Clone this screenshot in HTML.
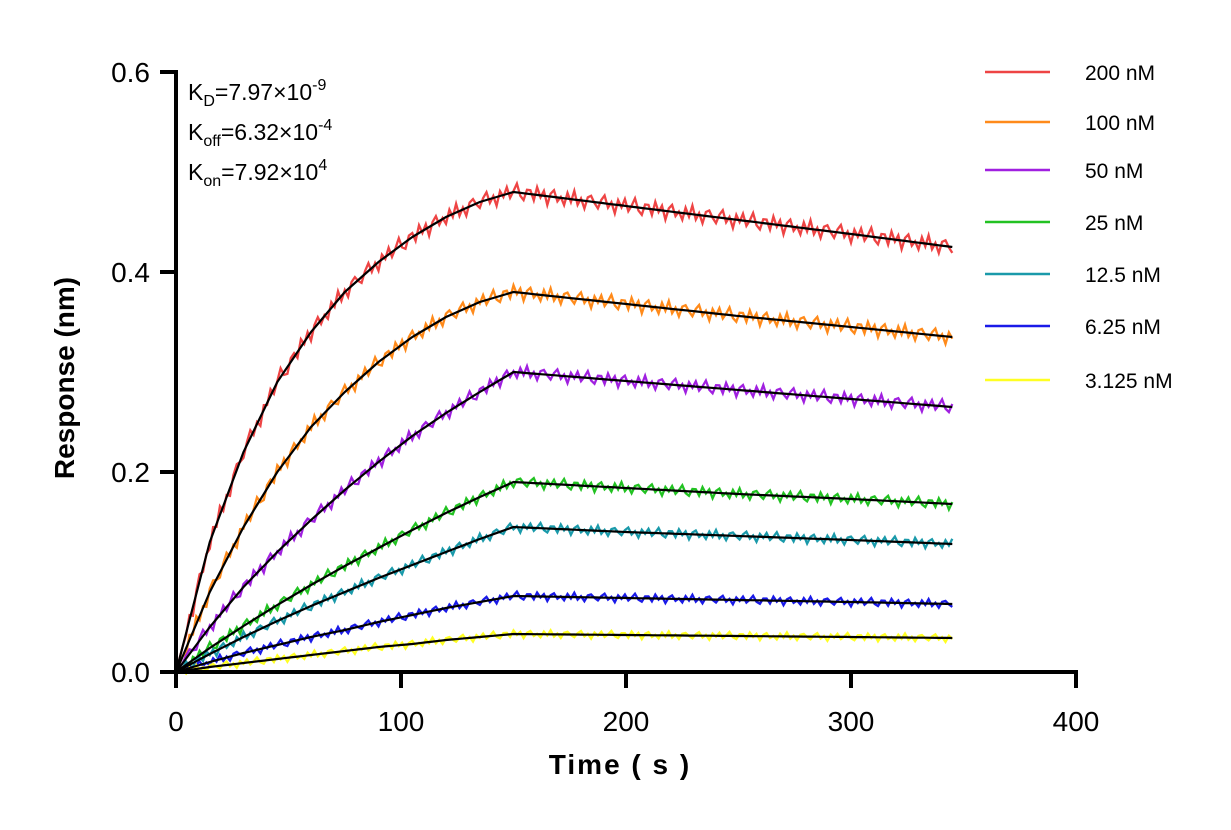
<!DOCTYPE html>
<html><head><meta charset="utf-8"><style>
body{margin:0;background:#fff;}
svg text{font-family:"Liberation Sans",Arial,sans-serif;}
</style></head><body>
<svg width="1231" height="825" viewBox="0 0 1231 825">
<g id="plot"></g>
<g id="axes"></g>
<g id="legend"></g>
<text x="188" y="100" font-size="23">K<tspan font-size="16" dy="6">D</tspan><tspan dy="-6">=7.97×10</tspan><tspan font-size="16" dy="-10">-9</tspan></text>
<text x="188" y="140" font-size="23">K<tspan font-size="16" dy="6">off</tspan><tspan dy="-6">=6.32×10</tspan><tspan font-size="16" dy="-10">-4</tspan></text>
<text x="188" y="180" font-size="23">K<tspan font-size="16" dy="6">on</tspan><tspan dy="-6">=7.92×10</tspan><tspan font-size="16" dy="-10">4</tspan></text>
<text x="620" y="774" font-size="28" font-weight="bold" text-anchor="middle" letter-spacing="2">Time ( s )</text>
<text x="74" y="378" font-size="28" font-weight="bold" text-anchor="middle" transform="rotate(-90 74 378)">Response (nm)</text>
</svg>
<script>
const times=[0,15,30,45,60,75,90,105,120,135,150,200,250,300,345];
const labels=["200 nM","100 nM","50 nM","25 nM","12.5 nM","6.25 nM","3.125 nM"];
const colors=["#ee4444","#ff8a1a","#a020e0","#22c222","#1a9aaa","#1a1ae8","#ffff22"];
const s200=[0,0.13,0.22,0.29,0.34,0.38,0.41,0.435,0.455,0.47,0.48,0.466,0.452,0.438,0.425];
const s100=[0,0.08,0.145,0.2,0.245,0.28,0.31,0.335,0.355,0.37,0.38,0.368,0.356,0.345,0.335];
const s50=[0,0.045,0.085,0.12,0.152,0.182,0.21,0.236,0.259,0.28,0.30,0.291,0.282,0.273,0.265];
const s25=[0,0.024,0.046,0.067,0.087,0.106,0.124,0.142,0.159,0.175,0.19,0.184,0.178,0.173,0.168];
const s12=[0,0.018,0.035,0.051,0.066,0.08,0.094,0.107,0.12,0.133,0.145,0.14,0.136,0.132,0.128];
const s6=[0,0.01,0.019,0.027,0.035,0.042,0.05,0.057,0.064,0.07,0.076,0.074,0.072,0.07,0.068];
const s3=[0,0.005,0.009,0.013,0.017,0.021,0.025,0.028,0.032,0.035,0.038,0.037,0.036,0.035,0.034];
const series=[s200,s100,s50,s25,s12,s6,s3];
const noise=[0.4,-0.6,0.8,-0.2,0.5,-0.9,0.3,0.7,-0.4,0.1,-0.7,0.6,-0.3,0.9,-0.5,0.2,-0.8,0.4,0.6,-0.1,-0.6,0.3,0.8,-0.4,0.2,-0.9,0.5,-0.2,0.7,-0.5,0.1,0.9,-0.3,-0.7,0.4];
const xTicks=[0,100,200,300,400];
const yTicks=[0.0,0.2,0.4,0.6];
const X=t=>176+t*2.25, Y=v=>672-v*1000;
const NS="http://www.w3.org/2000/svg";
function mk(tag,attrs,parent){const e=document.createElementNS(NS,tag);for(const k in attrs)e.setAttribute(k,attrs[k]);parent.appendChild(e);return e;}
function interp(arr,t){for(let i=0;i<times.length-1;i++){if(t<=times[i+1]){const f=(t-times[i])/(times[i+1]-times[i]);return arr[i]+f*(arr[i+1]-arr[i]);}}return arr[arr.length-1];}
const plot=document.getElementById('plot');
series.forEach((arr,si)=>{
  let pts=[];const amp=0.004+arr[10]*0.012;
  for(let t=0,i=0;t<=345;t+=1.5,i++){const v=interp(arr,t)+(t>3?noise[(i+si*7)%noise.length]*amp:0);pts.push(X(t).toFixed(1)+","+Y(v).toFixed(1));}
  const d=mk('polyline',{points:pts.join(' '),fill:'none',stroke:colors[si],'stroke-width':2.3},plot);
  
  
});
series.forEach((arr,si)=>{
  let pts=[];for(let t=0;t<=345;t+=3){pts.push(X(t).toFixed(1)+","+Y(interp(arr,t)).toFixed(1));}
  const f=mk('polyline',{points:pts.join(' '),fill:'none',stroke:'#000','stroke-width':2.2},plot);
  
  
});
const ax=document.getElementById('axes');
const xl=mk('line',{x1:175,y1:672,x2:1078,y2:672,stroke:'#000','stroke-width':4},ax);


const yl=mk('line',{x1:176,y1:70,x2:176,y2:674,stroke:'#000','stroke-width':4},ax);


xTicks.forEach(v=>{mk('line',{x1:X(v),y1:672,x2:X(v),y2:688,stroke:'#000','stroke-width':4},ax);
  const t=mk('text',{x:X(v),y:731,'font-size':28,'text-anchor':'middle'},ax);t.textContent=v;
  
  });
yTicks.forEach(v=>{mk('line',{x1:160,y1:Y(v),x2:176,y2:Y(v),stroke:'#000','stroke-width':4},ax);
  const t=mk('text',{x:150,y:Y(v)+10,'font-size':28,'text-anchor':'end'},ax);t.textContent=v.toFixed(1);
  
  });
const lg=document.getElementById('legend');
const ly=[72,122,170,222,274,326,380];
labels.forEach((l,i)=>{const g=mk('g',{},lg);
  
  
  mk('line',{x1:985,y1:ly[i],x2:1050,y2:ly[i],stroke:colors[i],'stroke-width':2.5},g);
  const t=mk('text',{x:1085,y:ly[i]+8,'font-size':21},g);t.textContent=l;});
</script>
</body></html>
